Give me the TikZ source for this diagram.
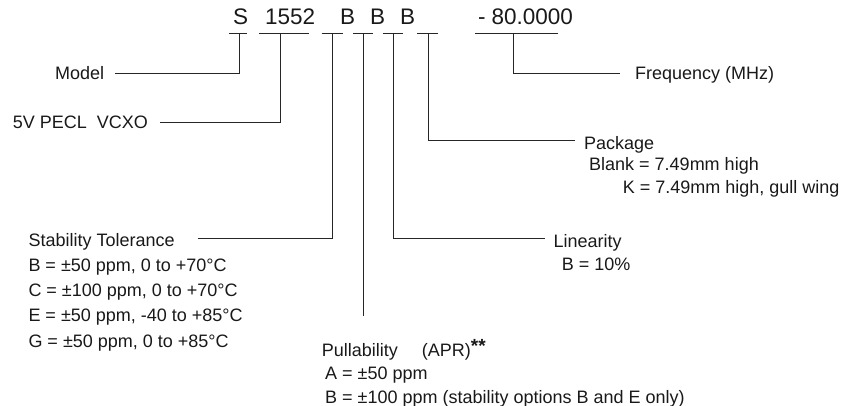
\documentclass[tikz,border=0pt]{standalone}
\usepackage{fontspec}
\setmainfont{Liberation Sans}
\begin{document}
\begin{tikzpicture}[x=1pt,y=-1pt,
  wire/.style={line width=1pt,black!85},
  lbl/.style={anchor=base west,inner sep=0pt,font=\fontsize{18}{20}\selectfont,text=black!90},
  code/.style={anchor=base west,inner sep=0pt,font=\fontsize{22.5}{24}\selectfont,text=black!90}]
\useasboundingbox (0,0) rectangle (849,406);
% part number
\node[code] (cS) at (233,25) {S};
\node[code] (c1552) at (265,25) {1552};
\node[code] (cB1) at (340,25) {B};
\node[code] (cB2) at (370,25) {B};
\node[code] (cB3) at (400,25) {B};
\node[code] (cF) at (478,25) {-\hspace{6pt}80.0000};
% underlines
\coordinate (uSl) at (229.3,33.3);   \coordinate (uSr) at (246.7,33.3);   \coordinate (uS) at (239.3,33.3);
\coordinate (u1l) at (259.3,33.3);   \coordinate (u1r) at (309.3,33.3);   \coordinate (u1) at (280,33.3);
\coordinate (uB1l) at (321.7,33.3);  \coordinate (uB1r) at (342.7,33.3);  \coordinate (uB1) at (332.5,33.3);
\coordinate (uB2l) at (353.3,33.3);  \coordinate (uB2r) at (372.7,33.3);  \coordinate (uB2) at (363,33.3);
\coordinate (uB3l) at (382.7,33.3);  \coordinate (uB3r) at (402.7,33.3);  \coordinate (uB3) at (393,33.3);
\coordinate (uPl) at (417.3,33.3);   \coordinate (uPr) at (438.3,33.3);   \coordinate (uP) at (428.3,33.3);
\coordinate (uFl) at (475,33.3);     \coordinate (uFr) at (558.3,33.3);   \coordinate (uF) at (513.3,33.3);
\foreach \a/\b in {uSl/uSr,u1l/u1r,uB1l/uB1r,uB2l/uB2r,uB3l/uB3r,uPl/uPr,uFl/uFr}
  \draw[wire] (\a) -- (\b);
% labels
\node[lbl] (model) at (55,79.3) {Model};
\node[lbl] (pecl) at (12.7,128.3) {5V PECL\ \ VCXO};
\node[lbl] (freq) at (635,79.5) {Frequency (MHz)};
\node[lbl] (pkg) at (584,149.3) {Package};
\node[lbl] (pkgA) at (589,171) {Blank = 7.49mm high};
\node[lbl] (pkgB) at (622.7,194) {K = 7.49mm high, gull wing};
\node[lbl] (lin) at (553.3,247.7) {Linearity};
\node[lbl] (linA) at (561.7,270.5) {B = 10\%};
\node[lbl] (stab) at (28.3,246.7) {Stability Tolerance};
\node[lbl] (stabB) at (28.3,271.7) {B = ±50 ppm, 0 to +70°C};
\node[lbl] (stabC) at (28.3,296.7) {C = ±100 ppm, 0 to +70°C};
\node[lbl] (stabE) at (28.3,321.7) {E = ±50 ppm, -40 to +85°C};
\node[lbl] (stabG) at (28.3,347) {G = ±50 ppm, 0 to +85°C};
\node[lbl] (pull) at (321.7,356) {Pullability\hspace{24pt}(APR)\raisebox{4pt}{\fontsize{19}{19}\selectfont\bfseries **}};
\node[lbl] (pullA) at (325,379.3) {A = ±50 ppm};
\node[lbl] (pullB) at (325,403) {B = ±100 ppm (stability options B and E only)};
% line ends
\coordinate (eModel) at (115,74);
\coordinate (ePecl) at (160,122.7);
\coordinate (eFreq) at (620,73.3);
\coordinate (ePkg) at (575,140.7);
\coordinate (eLin) at (545,239);
\coordinate (eStab) at (198,239);
\coordinate (ePull) at (363,316.3);
% connectors
\draw[wire] (uS) |- (eModel);
\draw[wire] (u1) |- (ePecl);
\draw[wire] (uB1) |- (eStab);
\draw[wire] (uB2) -- (ePull);
\draw[wire] (uB3) |- (eLin);
\draw[wire] (uP) |- (ePkg);
\draw[wire] (uF) |- (eFreq);
\end{tikzpicture}
\end{document}
